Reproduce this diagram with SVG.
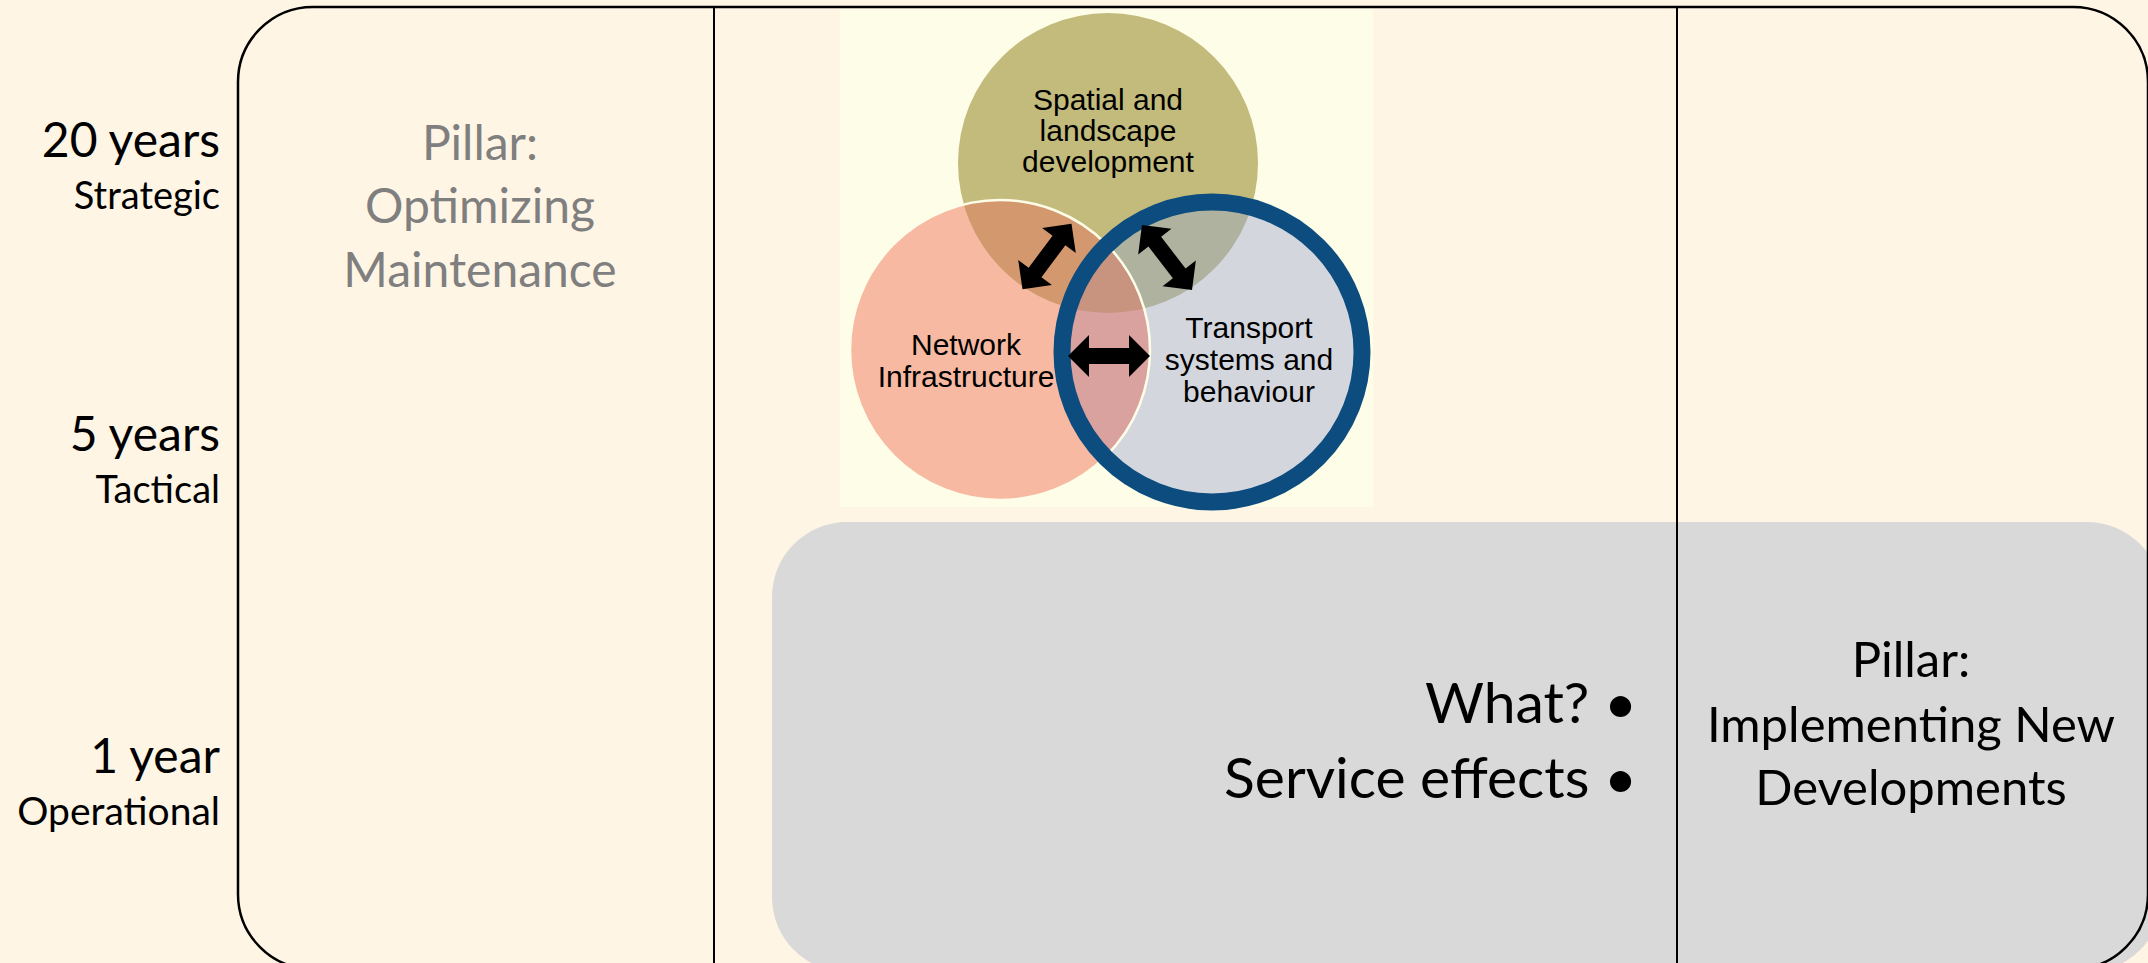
<svg xmlns="http://www.w3.org/2000/svg" width="2148" height="963" viewBox="0 0 2148 963">
<defs>
<style>
.gill{font-family:Lato,"Open Sans","Liberation Sans",sans-serif}
.lab-big{font-size:48px;fill:#000;text-anchor:end}
.lab-small{font-size:38px;fill:#000;text-anchor:end}
.pillar{font-size:48px;text-anchor:middle}
.pillar-r{font-size:49px;text-anchor:middle}
.bullet{font-size:57px;fill:#000;text-anchor:end}
.venn{font-family:"Liberation Sans",Arial,sans-serif;font-size:30px;fill:#000;text-anchor:middle}
.frame{fill:none;stroke:#000;stroke-width:2.5}
.divider{stroke:#000;stroke-width:2}
.arrow{fill:#000}
</style>
<clipPath id="clipA"><circle cx="1108" cy="163" r="150"/></clipPath>
<clipPath id="clipB"><circle cx="1000" cy="350" r="150"/></clipPath>
<clipPath id="clipC"><circle cx="1212" cy="352" r="150"/></clipPath>
<path id="dblarrow" d="M-41,0 L-20,-21 L-20,-8 L20,-8 L20,-21 L41,0 L20,21 L20,8 L-20,8 L-20,21 Z"/>
</defs>

<rect x="0" y="0" width="2148" height="963" fill="#FFF5E5"/>

<g id="venn-background">
<rect x="840" y="9" width="533" height="498" fill="#FEFDE8"/>
</g>

<g id="operational-box">
<rect x="772" y="522" width="1390" height="450" rx="75" ry="75" fill="#D9D9D9"/>
</g>

<g id="frame">
<rect class="frame" x="238" y="7" width="1910" height="962" rx="75" ry="75"/>
<line class="divider" x1="714" y1="7" x2="714" y2="963"/>
<line class="divider" x1="1677" y1="7" x2="1677" y2="963"/>
</g>

<g id="timeline-labels" class="gill">
<text class="lab-big" x="220" y="157">20 years</text>
<text class="lab-small" x="220" y="209">Strategic</text>
<text class="lab-big" x="220" y="451">5 years</text>
<text class="lab-small" x="220" y="503">Tactical</text>
<text class="lab-big" x="220" y="773">1 year</text>
<text class="lab-small" x="220" y="825" style="font-size:39px">Operational</text>
</g>

<g id="pillar-maintenance" class="gill">
<text class="pillar" x="480" y="160" fill="#7F7F7F">Pillar:</text>
<text class="pillar" x="480" y="223" fill="#7F7F7F">Optimizing</text>
<text class="pillar" x="480" y="287" fill="#7F7F7F">Maintenance</text>
</g>

<g id="venn">
<g id="circle-network">
<circle cx="1000" cy="350" r="150" fill="#F7B9A1"/>
</g>
<g id="circle-spatial">
<circle cx="1108" cy="163" r="150" fill="#C3BB7B"/>
</g>
<g id="circle-transport">
<circle cx="1212" cy="352" r="150" fill="#D4D6DD"/>
</g>
<g id="overlaps">
<circle cx="1108" cy="163" r="150" fill="#D4986F" clip-path="url(#clipB)"/>
<circle cx="1108" cy="163" r="150" fill="#AEB29F" clip-path="url(#clipC)"/>
<circle cx="1000" cy="350" r="150" fill="#DAA29E" clip-path="url(#clipC)"/>
<g clip-path="url(#clipC)">
<circle cx="1108" cy="163" r="150" fill="#C8937F" clip-path="url(#clipB)"/>
</g>
</g>
<circle cx="1000" cy="350" r="150" fill="none" stroke="#FEFDE8" stroke-width="2.5"/>
<text class="venn" x="1108" y="110">Spatial and</text>
<text class="venn" x="1108" y="141">landscape</text>
<text class="venn" x="1108" y="172">development</text>
<text class="venn" x="966" y="355">Network</text>
<text class="venn" x="966" y="387">Infrastructure</text>
<text class="venn" x="1249" y="338">Transport</text>
<text class="venn" x="1249" y="370">systems and</text>
<text class="venn" x="1249" y="402">behaviour</text>
<circle cx="1212" cy="352" r="150" fill="none" stroke="#0C4C7F" stroke-width="17"/>
</g>

<g id="connectors">
<use href="#dblarrow" class="arrow" transform="translate(1047,256.5) rotate(-53.3)"/>
<use href="#dblarrow" class="arrow" transform="translate(1167,257.5) rotate(52.4)"/>
<use href="#dblarrow" class="arrow" transform="translate(1109,356)"/>
</g>

<g id="what-list" class="gill">
<text class="bullet" x="1637" y="723">What? •</text>
<text class="bullet" x="1637" y="798">Service effects •</text>
</g>

<g id="pillar-new-developments" class="gill">
<text class="pillar-r" x="1911" y="677" fill="#000">Pillar:</text>
<text class="pillar-r" x="1911" y="742" fill="#000">Implementing New</text>
<text class="pillar-r" x="1911" y="805" fill="#000">Developments</text>
</g>
</svg>
